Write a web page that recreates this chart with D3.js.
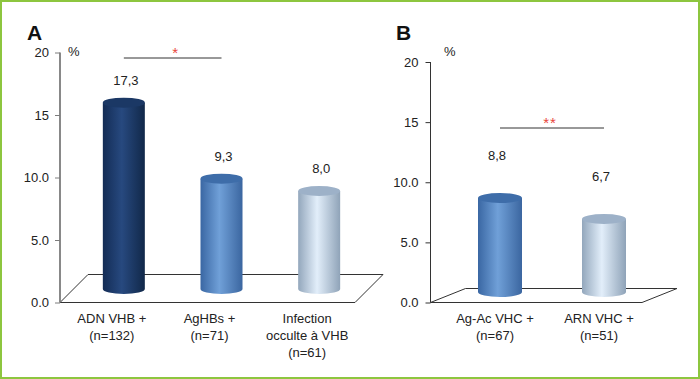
<!DOCTYPE html>
<html><head><meta charset="utf-8">
<script src="https://cdn.jsdelivr.net/npm/d3@7"></script>
<style>body{margin:0;background:#fff}svg{display:block;font-family:"Liberation Sans",Arial,Helvetica,sans-serif}</style>
</head><body>
<script>
// ---- data ----
const catsA = [["ADN VHB +","(n=132)"],["AgHBs +","(n=71)"],["Infection","occulte à VHB","(n=61)"]];
const valsA = [17.3, 9.3, 8.0];
const labelsA = ["17,3","9,3","8,0"];
const styleA = ["dark","mid","light"];
const catsB = [["Ag-Ac VHC +","(n=67)"],["ARN VHC +","(n=51)"]];
const valsB = [8.8, 6.7];
const labelsB = ["8,8","6,7"];
const styleB = ["mid","light"];
const tickVals = [0, 5, 10, 15, 20];
const tickLabels = ["0.0","5.0","10.0","15","20"];
const sigA = {from:0, to:1, text:"*"};
const sigB = {from:0, to:1, text:"**"};

const W = 700, H = 379;
const svg = d3.select("body").append("svg").attr("width", W).attr("height", H);
const defs = svg.append("defs");

const pal = {
  dark:  {edge:"#132c55", hi:"#27497f", edge2:"#112849", top:"#1b3865"},
  mid:   {edge:"#3a67a3", hi:"#70a0d8", edge2:"#3b66a0", top:"#3e6da9"},
  light: {edge:"#93a7bc", hi:"#e2eefa", edge2:"#8fa3b8", top:"#9db1c8"}
};
Object.entries(pal).forEach(([k,p])=>{
  const g = defs.append("linearGradient").attr("id","g_"+k).attr("x1","0").attr("x2","1").attr("y1","0").attr("y2","0");
  g.append("stop").attr("offset","0%").attr("stop-color",p.edge);
  g.append("stop").attr("offset","45%").attr("stop-color",p.hi);
  g.append("stop").attr("offset","100%").attr("stop-color",p.edge2);
});

svg.append("rect").attr("x",1).attr("y",1).attr("width",W-2).attr("height",H-2)
  .attr("fill","none").attr("stroke","#8dc63f").attr("stroke-width",2);

function panel(o){
  const y = d3.scaleLinear().domain([0,20]).range([o.y0, o.y20]);
  const cy = d3.scaleLinear().domain([0,20]).range(o.cylRange);
  const x = d3.scaleBand().domain(o.cats.map((c,i)=>i)).range(o.xRange);
  const g = svg.append("g");

  // letter
  g.append("text").attr("x",o.letterX).attr("y",40).attr("font-size",21).attr("font-weight","bold")
    .attr("fill","#111").text(o.letter);

  // floor
  const fy = y(0), bx = o.depth[0], by = o.depth[1];
  g.append("path").attr("d",`M${o.axisX},${fy}L${o.floorEnd},${fy}L${o.floorEnd+bx},${fy-by}L${o.axisX+bx},${fy-by}Z`)
    .attr("fill","#fff").attr("stroke","#333").attr("stroke-width",1);

  // axis
  const ax = d3.axisLeft(y).tickValues(tickVals).tickFormat((d,i)=>tickLabels[i]).tickSize(5).tickPadding(o.pad);
  const ag = g.append("g").attr("transform",`translate(${o.axisX},0)`).call(ax);
  ag.select(".domain").attr("stroke",o.axisColor).attr("stroke-width",o.axisW).attr("d",`M0,${o.y20}V${o.y0}`);
  ag.selectAll(".tick line").attr("stroke",o.axisColor);
  ag.selectAll(".tick text").attr("font-size",13).attr("fill","#222").attr("font-family","Liberation Sans, Arial, sans-serif");
  g.append("text").attr("x",o.pctX).attr("y",o.pctY).attr("font-size",13).attr("fill","#222").text("%");

  // cylinders
  const rx = o.cylW/2, ry = 5;
  o.vals.forEach((v,i)=>{
    const cx = x(i) + x.bandwidth()/2;
    const yt = cy(v), yb = o.cylBottom;
    const p = pal[o.styles[i]];
    g.append("path").attr("d",`M${cx-rx},${yt}L${cx-rx},${yb}A${rx},${ry} 0 0 0 ${cx+rx},${yb}L${cx+rx},${yt}Z`)
      .attr("fill",`url(#g_${o.styles[i]})`);
    g.append("ellipse").attr("cx",cx).attr("cy",yt).attr("rx",rx).attr("ry",ry).attr("fill",p.top);
    g.append("text").attr("x",cx+o.valDx).attr("y",yt-o.valDy).attr("text-anchor","middle")
      .attr("font-size",13).attr("fill","#222").text(o.labels[i]);
    o.cats[i].forEach((line,j)=>{
      g.append("text").attr("x",cx+o.catDx).attr("y",323+j*17).attr("text-anchor","middle")
        .attr("font-size",13).attr("fill","#222").text(line);
    });
  });

  // significance
  const c0 = x(o.sig.from)+x.bandwidth()/2, c1 = x(o.sig.to)+x.bandwidth()/2;
  g.append("line").attr("x1",c0).attr("x2",c1).attr("y1",o.sigY).attr("y2",o.sigY)
    .attr("stroke","#333").attr("stroke-width",1);
  g.append("text").attr("x",(c0+c1)/2+o.starDx).attr("y",o.sigY)
    .attr("text-anchor","middle").attr("font-size",15).attr("letter-spacing",1).attr("fill","#e8453c").text(o.sig.text);
}

panel({letter:"A", letterX:27, cats:catsA, vals:valsA, labels:labelsA, styles:styleA, sig:sigA,
  axisX:60, y0:302.5, y20:52.5, cylRange:[267,77], xRange:[75,368], floorEnd:355, depth:[28,28],
  cylW:42, cylBottom:289, valDx:2, valDy:18, catDx:-12, pad:6, axisColor:"#7c7c7c", axisW:1.8,
  pctX:68, pctY:56, sigY:58, starDx:3});
panel({letter:"B", letterX:396, cats:catsB, vals:valsB, labels:labelsB, styles:styleB, sig:sigB,
  axisX:430.5, y0:302.5, y20:62, cylRange:[286,86], xRange:[448,656], floorEnd:642, depth:[35,14],
  cylW:44, cylBottom:292, valDx:-3, valDy:38, catDx:-5, pad:7, axisColor:"#333", axisW:1,
  pctX:444, pctY:56, sigY:128, starDx:-2});
</script>
</body></html>
